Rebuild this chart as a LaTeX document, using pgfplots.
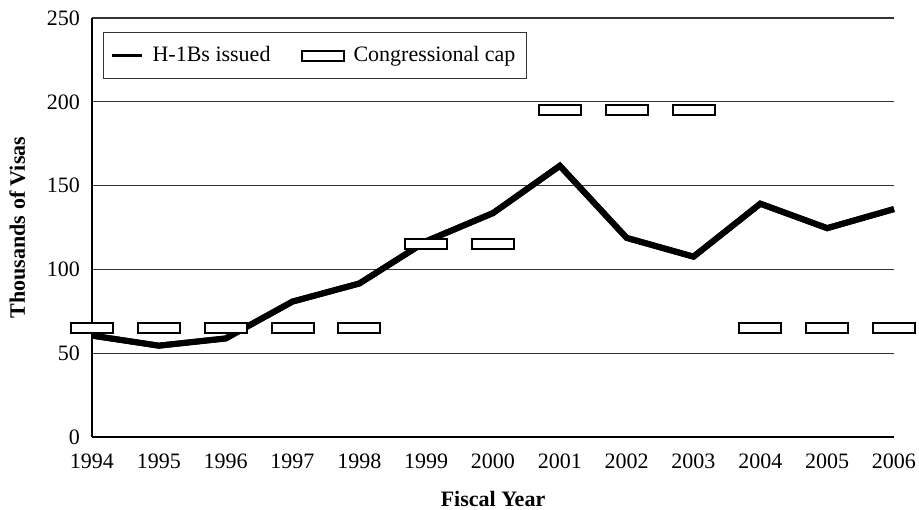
\documentclass[border=0pt]{standalone}
\usepackage{fontspec}
\setmainfont{Liberation Serif}
\usepackage{pgfplots}
\pgfplotsset{compat=1.18}
\pgfdeclareplotmark{caprect}{%
  \pgfpathrectangle{\pgfpoint{-10.5pt}{-2.5pt}}{\pgfpoint{21pt}{5pt}}%
  \pgfusepathqfillstroke}
\begin{document}
\begin{tikzpicture}
\begin{axis}[
  scale only axis, width=401pt, height=209.5pt,
  xmin=1994, xmax=2006, ymin=0, ymax=250,
  axis x line=bottom, axis y line=left,
  axis line style={-, line width=1pt, black},
  xtick={1994,...,2006}, ytick={0,50,...,250},
  major tick length=0pt,
  ymajorgrids, grid style={line width=0.6pt, color=black!80},
  /pgf/number format/assume math mode=true,
  /pgf/number format/1000 sep={},
  tick label style={font=\fontsize{11}{13}\selectfont},
  xticklabel style={yshift=-5pt},
  yticklabel style={xshift=-2.5pt},
  xlabel={Fiscal Year}, ylabel={Thousands of Visas},
  label style={font=\fontsize{11}{13}\selectfont\bfseries},
  xlabel style={at={(axis description cs:0.5,0)}, anchor=center, yshift=-31pt},
  ylabel style={at={(axis description cs:-0.093,0.5)}, anchor=center},
  clip=false,
  legend columns=2,
  legend style={at={(axis description cs:0,1)}, anchor=north west,
    xshift=5.5pt, yshift=-7pt, draw=black!80, line width=0.6pt,
    font=\fontsize{11}{13}\selectfont, inner xsep=3.5pt, inner ysep=5pt,
    /tikz/every odd column/.append style={column sep=2.5pt},
    /tikz/every even column/.append style={column sep=13pt}},
]
\addplot[black, line width=3pt, line join=miter, mark=none,
  legend image code/.code={\draw[line width=1.5pt] (0pt,0pt) -- (15pt,0pt);}]
  coordinates {(1994,60.5) (1995,54.5) (1996,58.8) (1997,80.8) (1998,91.6)
   (1999,116.8) (2000,133.6) (2001,161.8) (2002,118.8) (2003,107.6)
   (2004,139.2) (2005,124.6) (2006,136)};
\addlegendentry{H-1Bs issued}
\addplot[only marks, mark=caprect, mark options={draw=black, fill=white, line width=1pt},
  legend image code/.code={\draw[black, fill=white, line width=1pt] (0pt,-2.5pt) rectangle (21pt,2.5pt);}]
  coordinates {(1994,65) (1995,65) (1996,65) (1997,65) (1998,65)
   (1999,115) (2000,115) (2001,195) (2002,195) (2003,195)
   (2004,65) (2005,65) (2006,65)};
\addlegendentry{Congressional cap}
\addplot[black, line width=3pt, line join=miter, mark=none, forget plot]
  coordinates {(1994,60.5) (1995,54.5) (1996,58.8) (1997,80.8) (1998,91.6)
   (1999,116.8) (2000,133.6) (2001,161.8) (2002,118.8) (2003,107.6)
   (2004,139.2) (2005,124.6) (2006,136)};
\end{axis}
\pgfresetboundingbox
\useasboundingbox (-46pt,-36pt) rectangle (413.5pt,218.5pt);
\end{tikzpicture}
\end{document}
